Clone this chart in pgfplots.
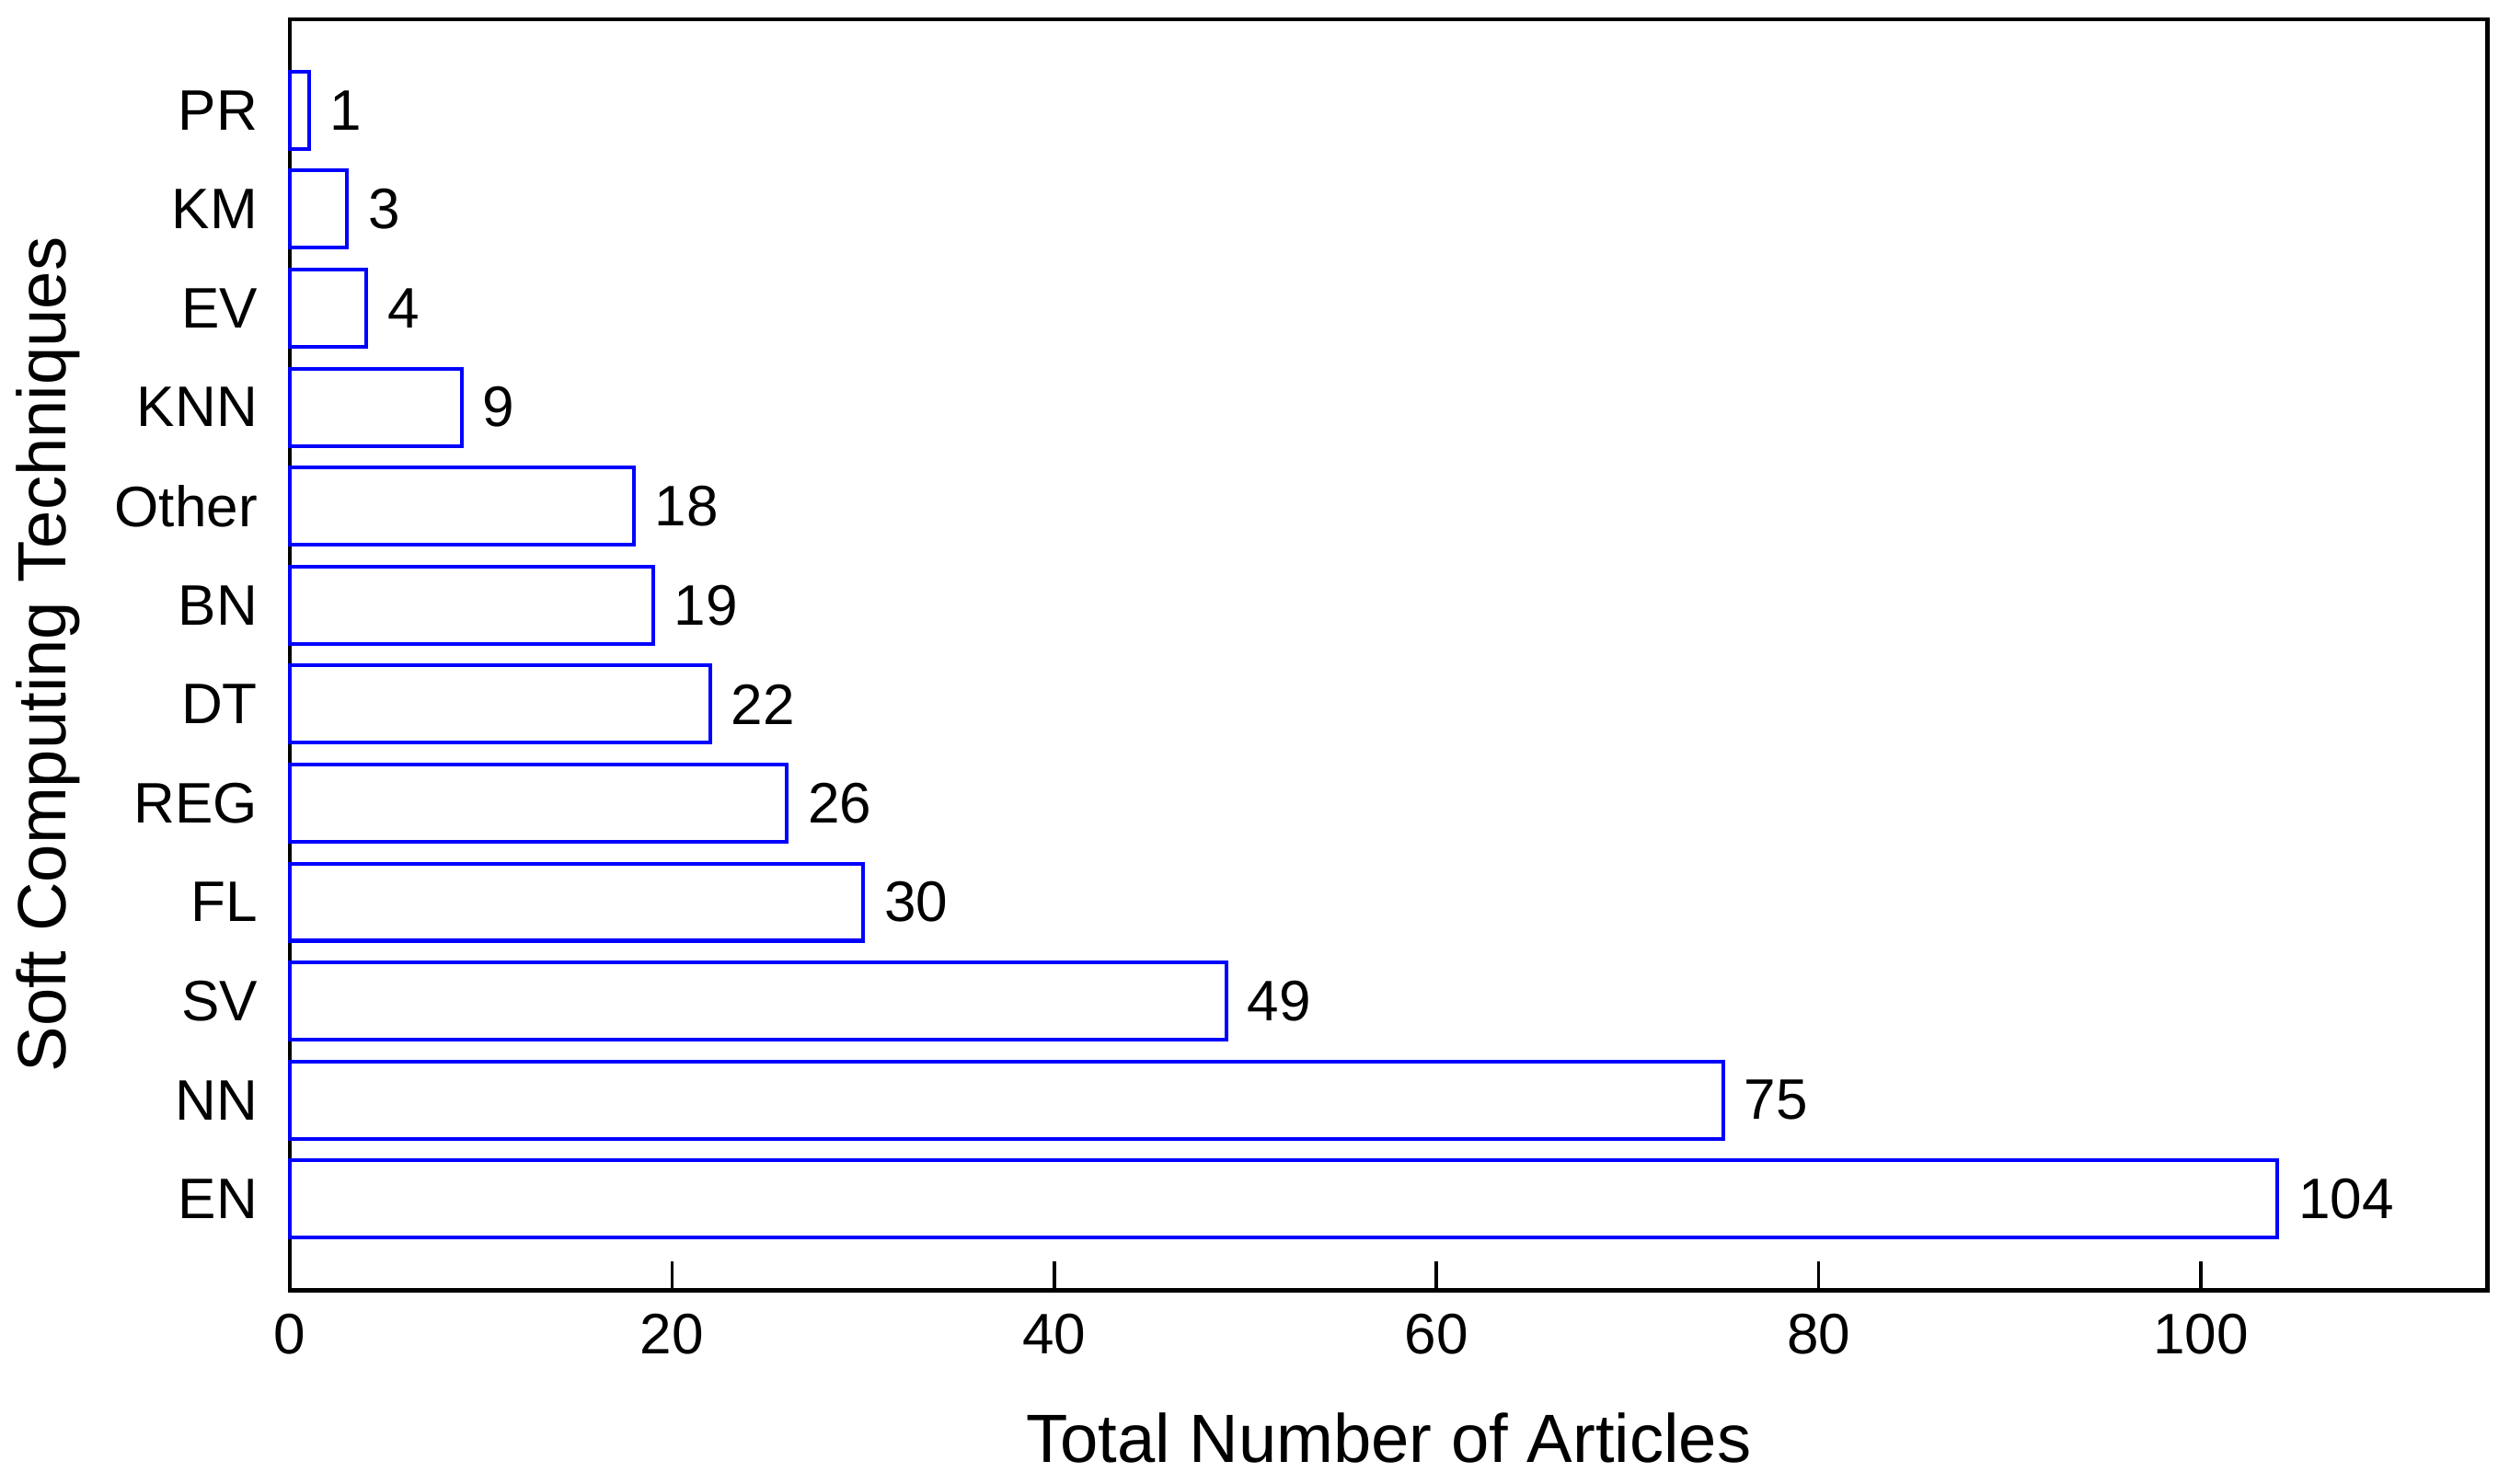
\documentclass[border=0pt]{standalone}
\usepackage{pgfplots}
\pgfplotsset{compat=1.18}
\usepackage{fontspec}
\setmainfont{Liberation Sans}
\definecolor{barblue}{RGB}{0,0,255}
\begin{document}
\begin{tikzpicture}
\useasboundingbox (-54.3pt,-36.3pt) rectangle (416.1pt,241.8pt);
\begin{axis}[
  at={(0,0)}, anchor=south west,
  scale only axis,
  width=411.9pt, height=238.2pt,
  xbar, bar width=0.78,
  xmin=0, xmax=115,
  ymin=-0.92, ymax=11.92,
  xtick={0,20,40,60,80,100},
  xtick pos=bottom,
  tick align=inside,
  major tick length=5.4pt,
  ytick={0,1,2,3,4,5,6,7,8,9,10,11},
  yticklabels={EN,NN,SV,FL,REG,DT,BN,Other,KNN,EV,KM,PR},
  ytick style={draw=none},
  axis line style={line width=0.8pt},
  every tick/.style={black, line width=0.6pt},
  tick label style={font=\fontsize{10.7}{12}\selectfont},
  /pgf/number format/assume math mode=true,
  yticklabel style={xshift=-2.5pt},
  xticklabel style={yshift=-1pt},
  xlabel={Total Number of Articles},
  ylabel={Soft Computing Techniques},
  xlabel style={font=\fontsize{12.8}{14}\selectfont, at={(axis description cs:0.5,-0.116)}, anchor=center},
  ylabel style={font=\fontsize{12.8}{14}\selectfont, at={(axis description cs:-0.11,0.5)}, anchor=center},
  nodes near coords,
  every node near coord/.append style={font=\fontsize{10.7}{12}\selectfont, anchor=west, xshift=0.3pt},
  clip=false,
]
\addplot[draw=barblue, fill=white, line width=0.7pt] coordinates {
(104,0) (75,1) (49,2) (30,3) (26,4) (22,5) (19,6) (18,7) (9,8) (4,9) (3,10) (1,11)
};
\end{axis}
\end{tikzpicture}
\end{document}
